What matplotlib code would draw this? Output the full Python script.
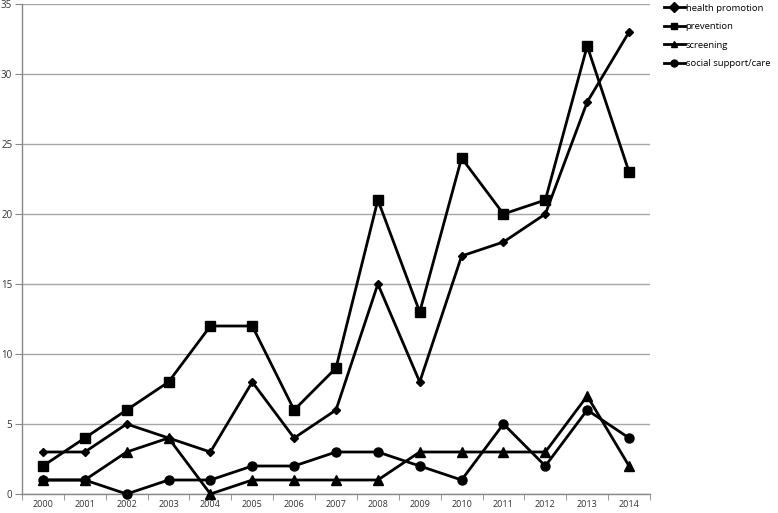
import matplotlib
matplotlib.use('Agg')
import matplotlib.pyplot as plt
import numpy as np

plt.rcParams['font.family'] = ['Open Sans', 'DejaVu Sans']

years = list(range(2000, 2015))
health_promotion = [3, 3, 5, 4, 3, 8, 4, 6, 15, 8, 17, 18, 20, 28, 33]
prevention = [2, 4, 6, 8, 12, 12, 6, 9, 21, 13, 24, 20, 21, 32, 23]
screening = [1, 1, 3, 4, 0, 1, 1, 1, 1, 3, 3, 3, 3, 7, 2]
social_support = [1, 1, 0, 1, 1, 2, 2, 3, 3, 2, 1, 5, 2, 6, 4]

W, H = 778, 513
fig = plt.figure(figsize=(W / 100, H / 100), dpi=100)
ax = fig.add_axes([22 / W, 19 / H, (650 - 22) / W, (494 - 4) / H])

x = np.arange(len(years))
series = [
    (health_promotion, 'D', 4.5, 'health promotion'),
    (prevention, 's', 6.5, 'prevention'),
    (screening, '^', 7, 'screening'),
    (social_support, 'o', 6.5, 'social support/care'),
]
for vals, m, ms, lab in series:
    ax.plot(x, vals, color='black', lw=2, marker=m, ms=ms, label=lab,
            clip_on=False, zorder=3)

ax.set_xlim(-0.5, len(years) - 0.5)
ax.set_ylim(0, 35)
ax.set_yticks(range(0, 36, 5))
ax.set_xticks(x)
ax.set_xticklabels([str(y) for y in years])
ax.set_xticks(np.arange(-0.5, len(years), 1), minor=True)
ax.tick_params(axis='x', which='major', length=0, pad=4, labelsize=6.5, colors='#333333')
ax.tick_params(axis='x', which='minor', length=4, color='#888888')
ax.tick_params(axis='y', length=5, color='#888888', labelsize=7, labelcolor='#333333', pad=2)

ax.grid(axis='y', color='#a6a6a6', lw=1)
ax.set_axisbelow(True)
for s in ['top', 'right']:
    ax.spines[s].set_visible(False)
for s in ['left', 'bottom']:
    ax.spines[s].set_color('#888888')
    ax.spines[s].set_linewidth(1)

leg = fig.legend(loc='upper left', bbox_to_anchor=(660 / W, 1 - 0 / H), frameon=False,
                 fontsize=6.8, handlelength=2.2, handletextpad=0.1, labelspacing=1.0,
                 borderaxespad=0)
for h in leg.legend_handles:
    h.set_markersize(5)

fig.savefig('out.png', dpi=100)
